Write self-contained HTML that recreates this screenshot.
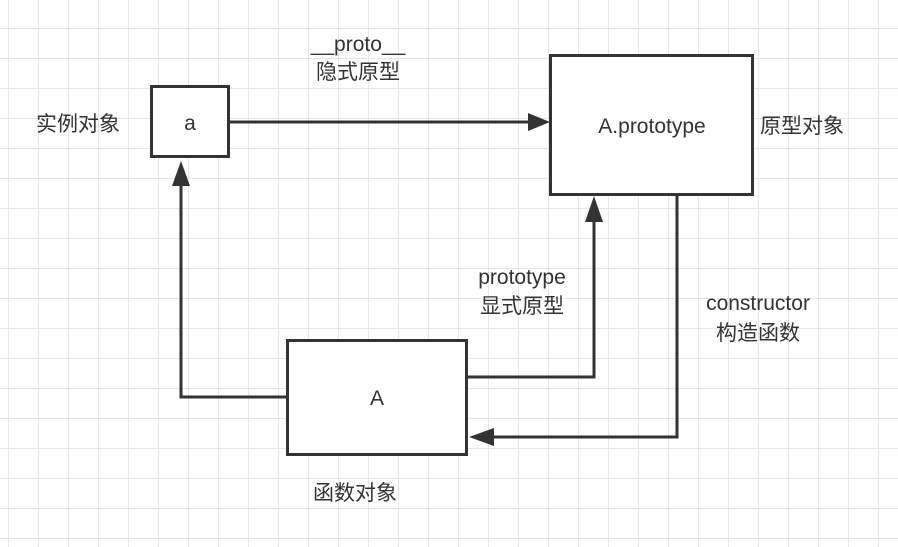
<!DOCTYPE html>
<html><head><meta charset="utf-8"><style>
html,body{margin:0;padding:0;}
body{width:898px;height:547px;overflow:hidden;background:#fff;
background-image:linear-gradient(#e6e6e6 1px,transparent 1px),linear-gradient(90deg,#e6e6e6 1px,transparent 1px);
background-size:30px 30px;background-position:8px 28px;}
svg{position:absolute;left:0;top:0}
text{font-family:"Liberation Sans","Noto Sans CJK SC",sans-serif;font-size:21px;fill:#333}
</style></head><body>
<svg width="898" height="547" viewBox="0 0 898 547">
<g fill="#fff" stroke="#333" stroke-width="3">
<rect x="151.5" y="86.5" width="77" height="70"/>
<rect x="550.5" y="55.5" width="202" height="139"/>
<rect x="287.5" y="340.5" width="179" height="114"/>
</g>
<g fill="none" stroke="#333" stroke-width="3">
<line x1="229" y1="122" x2="532" y2="122"/>
<polyline points="287,397 181,397 181,180"/>
<polyline points="467,377 594,377 594,216"/>
<polyline points="677,195 677,437 488,437"/>
</g>
<g fill="#333">
<polygon points="550,122 528,113 528,131"/>
<polygon points="181,161 172,186 190,186"/>
<polygon points="594,196 585,222 603,222"/>
<polygon points="469,437 494,428 494,446"/>
</g>
<text x="190" y="130" text-anchor="middle">a</text>
<text x="652" y="133" text-anchor="middle">A.prototype</text>
<text x="377" y="405" text-anchor="middle">A</text>
<text x="36" y="131">实例对象</text>
<text x="760" y="133">原型对象</text>
<text x="313" y="500">函数对象</text>
<text x="358" y="51" text-anchor="middle">__proto__</text>
<text x="358" y="79" text-anchor="middle">隐式原型</text>
<text x="522" y="284" text-anchor="middle">prototype</text>
<text x="522" y="313" text-anchor="middle">显式原型</text>
<text x="758" y="310" text-anchor="middle">constructor</text>
<text x="758" y="340" text-anchor="middle">构造函数</text>
</svg>
</body></html>
